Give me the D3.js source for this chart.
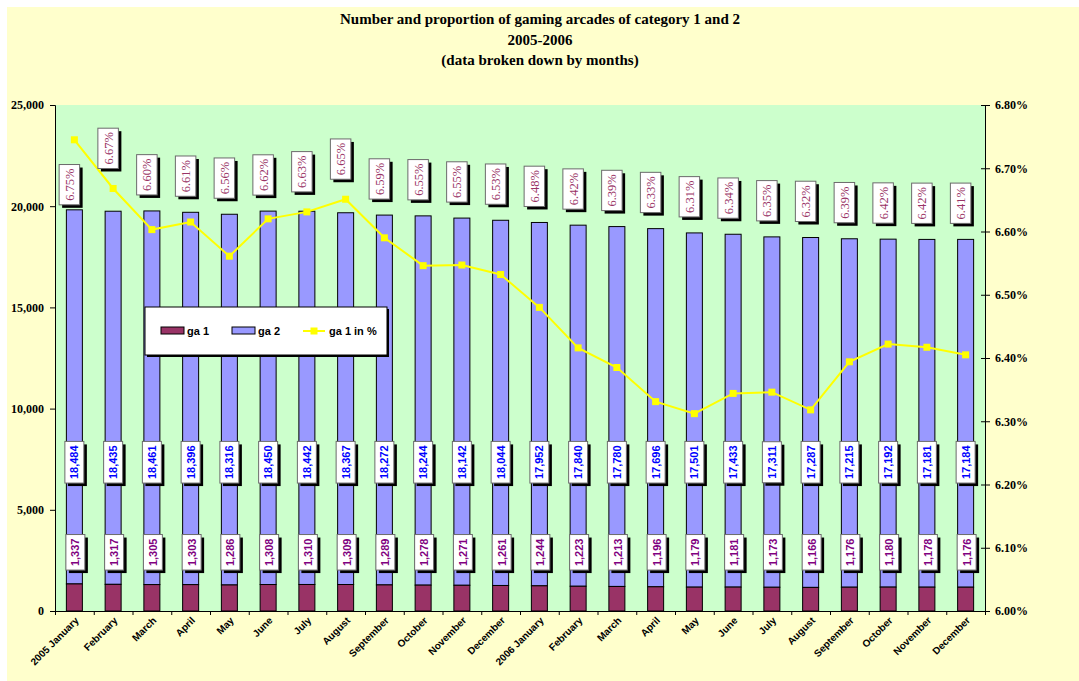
<!DOCTYPE html>
<html>
<head>
<meta charset="utf-8">
<script src="https://cdn.jsdelivr.net/npm/d3@7"></script>
<style>
	body { margin: 0; background: #ffffff; }
	svg { display: block; }
</style>
</head>
<body>
<div id="chart"></div>
<script>
var months = ["2005 January", "February", "March", "April", "May", "June", "July",
	"August", "September", "October", "November", "December", "2006 January",
	"February", "March", "April", "May", "June", "July", "August", "September",
	"October", "November", "December"
];
var ga1 = [1337, 1317, 1305, 1303, 1286, 1308, 1310, 1309, 1289, 1278, 1271, 1261,
	1244, 1223, 1213, 1196, 1179, 1181, 1173, 1166, 1176, 1180, 1178, 1176];
var ga2 = [18484, 18435, 18461, 18396, 18316, 18450, 18442, 18367, 18272, 18244, 18142, 18044,
	17952, 17840, 17780, 17696, 17501, 17433, 17311, 17287, 17215, 17192, 17181, 17184];
// share of ga 1 in %
var ga1Pct = [6.745, 6.668, 6.603, 6.615, 6.561, 6.620, 6.631, 6.651, 6.590, 6.546, 6.547, 6.532,
	6.480, 6.416, 6.385, 6.331, 6.312, 6.344, 6.346, 6.318, 6.394, 6.422, 6.417, 6.405];
var pctLabels = ["6.75%", "6.67%", "6.60%", "6.61%", "6.56%", "6.62%", "6.63%", "6.65%", "6.59%",
	"6.55%", "6.55%", "6.53%", "6.48%", "6.42%", "6.39%", "6.33%", "6.31%", "6.34%", "6.35%",
	"6.32%", "6.39%", "6.42%", "6.42%", "6.41%"];
var leftTicks = [0, 5000, 10000, 15000, 20000, 25000];
var rightTicks = [6.0, 6.1, 6.2, 6.3, 6.4, 6.5, 6.6, 6.7, 6.8];
var titleLines = ["Number and proportion of gaming arcades of category 1 and 2", "2005-2006",
	"(data broken down by months)"];
var legendNames = ["ga 1", "ga 2", "ga 1 in %"];

var serif = "'Liberation Serif', 'Times New Roman', serif";
var sans = "'Liberation Sans', Arial, sans-serif";

const W = 1079, H = 681;
const plot = { left: 55, right: 985, top: 105, bottom: 611 };

const svg = d3.select("#chart").append("svg")
	.attr("width", W)
	.attr("height", H);

// chart area background
svg.append("rect")
	.attr("x", 7).attr("y", 7)
	.attr("width", W - 7).attr("height", H - 7)
	.attr("fill", "#ffffcc");

svg.append("rect")
	.attr("x", plot.left).attr("y", plot.top)
	.attr("width", plot.right - plot.left).attr("height", plot.bottom - plot.top)
	.attr("fill", "#ccffcc");

// title
svg.append("g").selectAll("text")
	.data(titleLines)
	.enter()
	.append("text")
	.attr("x", 540)
	.attr("y", (d, i) => 24 + i * 20.5)
	.attr("text-anchor", "middle")
	.attr("font-family", serif)
	.attr("font-weight", "bold")
	.attr("font-size", "15px")
	.text(d => d);

const xScale = d3.scaleBand()
	.domain(d3.range(months.length))
	.range([plot.left, plot.right]);
const bw = xScale.bandwidth();
const barW = 16;
const cx = i => xScale(i) + bw / 2;

const yScale = d3.scaleLinear()
	.domain([0, 25000])
	.range([plot.bottom, plot.top]);

const yPct = d3.scaleLinear()
	.domain([6.0, 6.8])
	.range([plot.bottom, plot.top]);

// bars
var rows = months.map((m, i) => ({ i: i, month: m, ga1: ga1[i], ga2: ga2[i], pct: ga1Pct[i], pctLabel: pctLabels[i] }));

svg.append("g").selectAll("rect")
	.data(rows)
	.enter()
	.append("rect")
	.attr("x", d => cx(d.i) - barW / 2)
	.attr("y", d => yScale(d.ga1 + d.ga2))
	.attr("width", barW)
	.attr("height", d => yScale(d.ga1) - yScale(d.ga1 + d.ga2))
	.attr("fill", "#9999ff")
	.attr("stroke", "#000")
	.attr("stroke-width", 1);

svg.append("g").selectAll("rect")
	.data(rows)
	.enter()
	.append("rect")
	.attr("x", d => cx(d.i) - barW / 2)
	.attr("y", d => yScale(d.ga1))
	.attr("width", barW)
	.attr("height", d => yScale(0) - yScale(d.ga1))
	.attr("fill", "#993366")
	.attr("stroke", "#000")
	.attr("stroke-width", 1);

// axes
const leftAxis = d3.axisLeft(yScale)
	.tickValues(leftTicks)
	.tickFormat(d3.format(","))
	.tickSize(5)
	.tickPadding(6);
const gl = svg.append("g")
	.attr("transform", "translate(" + plot.left + ",0)")
	.call(leftAxis);
gl.select(".domain").attr("stroke", "#000");
gl.selectAll("text")
	.attr("font-family", serif)
	.attr("font-weight", "bold")
	.attr("font-size", "12px")
	.attr("fill", "#000");

const rightAxis = d3.axisRight(yPct)
	.tickValues(rightTicks)
	.tickFormat(d => d.toFixed(2) + "%")
	.tickSize(5)
	.tickPadding(5);
const gr = svg.append("g")
	.attr("transform", "translate(" + plot.right + ",0)")
	.call(rightAxis);
gr.select(".domain").attr("stroke", "#000");
gr.selectAll(".tick line").attr("x1", -4).attr("x2", 5);
gr.selectAll("text")
	.attr("font-family", serif)
	.attr("font-weight", "bold")
	.attr("font-size", "12px")
	.attr("fill", "#000");

const xEdges = d3.scaleLinear()
	.domain([0, months.length])
	.range([plot.left, plot.right]);
const gx = svg.append("g")
	.attr("transform", "translate(0," + plot.bottom + ")")
	.call(d3.axisBottom(xEdges).tickValues(d3.range(months.length + 1)).tickFormat("").tickSize(4));
gx.select(".domain").attr("stroke", "#000");

const gxl = svg.append("g")
	.attr("transform", "translate(0," + plot.bottom + ")")
	.call(d3.axisBottom(xScale).tickSize(0).tickFormat(i => months[i]));
gxl.select(".domain").remove();
gxl.selectAll("text")
	.attr("font-family", sans)
	.attr("font-weight", "bold")
	.attr("font-size", "10px")
	.attr("fill", "#000")
	.attr("text-anchor", "end")
	.attr("dy", 0)
	.attr("transform", "translate(3,8) rotate(-45)");

// line for ga 1 in %
const line = d3.line()
	.x(d => cx(d.i))
	.y(d => yPct(d.pct));

svg.append("path")
	.datum(rows)
	.attr("d", line)
	.attr("fill", "none")
	.attr("stroke", "#ffff00")
	.attr("stroke-width", 2);

svg.append("g").selectAll("rect")
	.data(rows)
	.enter()
	.append("rect")
	.attr("x", d => cx(d.i) - 3.5)
	.attr("y", d => yPct(d.pct) - 3.5)
	.attr("width", 7)
	.attr("height", 7)
	.attr("fill", "#ffff00");

// data labels: white box, grey border, black shadow, vertical text
function labelBox(g, x, y, text, font, weight, size, color, anchorBottom) {
	var lg = g.append("g");
	var t = lg.append("text")
		.attr("font-family", font)
		.attr("font-weight", weight)
		.attr("font-size", size + "px")
		.attr("fill", color)
		.text(text);
	var len = t.node().getComputedTextLength();
	var bh = len + 8;
	var bwid = size + 8;
	var top = anchorBottom ? y - bh : y - bh / 2;
	lg.insert("rect", "text")
		.attr("x", x - bwid / 2 + 3).attr("y", top + 3)
		.attr("width", bwid).attr("height", bh)
		.attr("fill", "#000");
	lg.insert("rect", "text")
		.attr("x", x - bwid / 2).attr("y", top)
		.attr("width", bwid).attr("height", bh)
		.attr("fill", "#fff")
		.attr("stroke", "#6b6b6b")
		.attr("stroke-width", 1);
	t.attr("text-anchor", "middle")
		.attr("transform", "translate(" + (x + size * 0.36) + "," + (top + bh / 2) + ") rotate(-90)");
}

const labels = svg.append("g");
rows.forEach(function(d) {
	labelBox(labels, cx(d.i), yScale(7350), d3.format(",")(d.ga2), sans, "bold", 11, "#0000ff", false);
	labelBox(labels, cx(d.i) + 1, yScale(2900), d3.format(",")(d.ga1), sans, "bold", 11, "#800080", false);

	var barTop = yScale(d.ga1 + d.ga2);
	var pt = yPct(d.pct);
	var bottom = Math.min(barTop - 16, pt - 20);
	if (bottom - 40 < plot.top + 5) bottom = barTop - 5;
	labelBox(labels, cx(d.i) - 5, bottom, d.pctLabel, serif, "normal", 12.5, "#993366", true);
});

// legend
const lg = svg.append("g");
lg.append("rect")
	.attr("x", 147).attr("y", 309)
	.attr("width", 242).attr("height", 48)
	.attr("fill", "#000");
lg.append("rect")
	.attr("x", 145).attr("y", 307)
	.attr("width", 242).attr("height", 48)
	.attr("fill", "#fff")
	.attr("stroke", "#000")
	.attr("stroke-width", 1);

var legY = 331;
lg.append("rect")
	.attr("x", 161).attr("y", legY - 4)
	.attr("width", 23).attr("height", 7)
	.attr("fill", "#993366").attr("stroke", "#000");
lg.append("rect")
	.attr("x", 232).attr("y", legY - 4)
	.attr("width", 23).attr("height", 7)
	.attr("fill", "#9999ff").attr("stroke", "#000");
lg.append("line")
	.attr("x1", 303).attr("x2", 325)
	.attr("y1", legY).attr("y2", legY)
	.attr("stroke", "#ffff00").attr("stroke-width", 2);
lg.append("rect")
	.attr("x", 310.5).attr("y", legY - 3.5)
	.attr("width", 7).attr("height", 7)
	.attr("fill", "#ffff00");

lg.selectAll(".legtext")
	.data(legendNames)
	.enter()
	.append("text")
	.attr("class", "legtext")
	.attr("x", (d, i) => [187, 258, 329][i])
	.attr("y", legY + 4)
	.attr("font-family", sans)
	.attr("font-weight", "bold")
	.attr("font-size", "11px")
	.text(d => d);
</script>
</body>
</html>
